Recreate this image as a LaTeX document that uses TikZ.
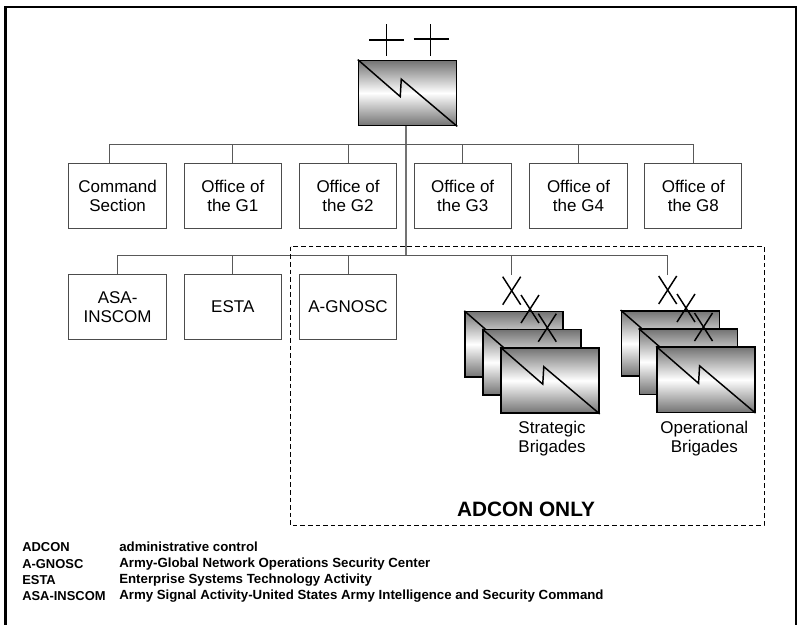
\documentclass[tikz,border=0pt]{standalone}
\usepackage{fontspec}
\setmainfont{Liberation Sans}
\usetikzlibrary{positioning,calc}

\tikzset{
	officebox/.style={draw=black!70, line width=0.75pt, fill=white, minimum width=73pt, minimum height=48.5pt, inner sep=0pt, align=center, font=\fontsize{12.75}{14.25}\selectfont},
	signalbox/.style={draw=black, line width=1.1pt, top color=black!55, bottom color=black!55, middle color=white, minimum width=73.5pt, minimum height=49pt, inner sep=0pt},
	bolt/.style={draw=black, line width=1.1pt},
	wire/.style={draw=black!65, line width=0.75pt},
	marklines/.style={draw=black, line width=1.1pt},
	caption/.style={inner sep=0pt, align=center, font=\fontsize{12.75}{14.25}\selectfont},
	legend/.style={inner sep=0pt, anchor=west, font=\fontsize{9.95}{11}\selectfont\bfseries},
	legendabbr/.style={inner sep=0pt, anchor=west, font=\fontsize{9.7}{11}\selectfont\bfseries},
}

% one echelon symbol: box and its lightning line
\newcommand{\signalsym}[3]{
	\node[signalbox] (#1) at (#2,#3) {};
	\draw[bolt] (#1.north west) -- ($(#1.north west)+(42.5,37)$) -- ($(#1.north west)+(43.5,19.5)$) -- (#1.south east);
}
% one X above a brigade box
\newcommand{\brigademark}[2]{
	\draw[marklines] (#1-9,#2-14) -- (#1+9,#2+14);
	\draw[marklines] (#1-9,#2+14) -- (#1+9,#2-14);
}

\begin{document}
\begin{tikzpicture}[x=0.75pt,y=-0.75pt]
	\useasboundingbox (0,0) rectangle (800,625);
	\draw[line width=1.9pt,black] (5.5,626) -- (5.5,7) -- (796,7) -- (796,626);

	% headquarters
	\signalsym{hq}{407.5}{93}
	\draw[marklines] (369,40) -- (404,40);
	\draw[marklines] (386.7,24) -- (386.7,56);
	\draw[marklines] (413.5,39) -- (449,39);
	\draw[marklines] (430.7,24) -- (430.7,56);

	% first row
	\node[officebox] (cmd) at (117.6,195.8) {Command\\Section};
	\node[officebox] (gone) at (232.8,195.8) {Office of\\the G1};
	\node[officebox] (gtwo) at (348,195.8) {Office of\\the G2};
	\node[officebox] (gthree) at (462.7,195.8) {Office of\\the G3};
	\node[officebox] (gfour) at (578.5,195.8) {Office of\\the G4};
	\node[officebox] (geight) at (693.3,195.8) {Office of\\the G8};

	% second row
	\node[officebox] (asa) at (117.6,307) {ASA-\\INSCOM};
	\node[officebox] (esta) at (232.8,307) {ESTA};
	\node[officebox] (gnosc) at (348,307) {A-GNOSC};

	\coordinate (hqfoot) at (406,126);
	\coordinate (busone) at (406,144.7);
	\coordinate (bustwo) at (406,255.7);
	\coordinate (cmdtop) at (109,163.3);
	\coordinate (stratstem) at (511.7,275);
	\coordinate (operstem) at (667.7,275);

	\draw[wire,line width=1.2pt,black!55] (hqfoot) -- (bustwo);
	\draw[wire] (cmdtop) |- (busone);
	\foreach \n in {gone,gtwo,gthree,gfour,geight}
		\draw[wire] (\n.north) |- (busone);
	\foreach \n in {asa,esta,gnosc}
		\draw[wire] (\n.north) |- (bustwo);
	\draw[wire] (stratstem) |- (bustwo);
	\draw[wire] (operstem) |- (bustwo);

	% brigades
	\foreach \d/\s in {0/stratA,18/stratB,36/stratC}{
		\signalsym{\s}{514+\d}{344.2+\d*1.01}
	}
	\foreach \d/\s in {0/operA,18/operB,35.5/operC}{
		\signalsym{\s}{670.3+\d}{343.5+\d*1.02}
	}
	\brigademark{511.7}{290.7}
	\brigademark{530}{309}
	\brigademark{547.3}{327.7}
	\brigademark{667.7}{290}
	\brigademark{686}{308}
	\brigademark{703.5}{327}
	\node[caption] (stratlabel) at (552,439) {Strategic\\Brigades};
	\node[caption] (operlabel) at (704.3,439) {Operational\\Brigades};

	% adcon area
	\draw[black,line width=0.6pt,dash pattern=on 3.5pt off 2.2pt] (290.5,246.7) rectangle (764,525.6);
	\node[inner sep=0pt,font=\fontsize{15.6}{17}\selectfont\bfseries] (adcon) at (526,509) {ADCON ONLY};

	% legend
	\foreach \y/\abbr/\full in {547/ADCON/administrative control,
		564/A-GNOSC/Army-Global Network Operations Security Center,
		580/ESTA/Enterprise Systems Technology Activity,
		596/ASA-INSCOM/Army Signal Activity-United States Army Intelligence and Security Command}
	{
		\node[legendabbr] at (22,\y) {\abbr};
		\node[legend] at (119,\y) {\full};
	}
\end{tikzpicture}
\end{document}
